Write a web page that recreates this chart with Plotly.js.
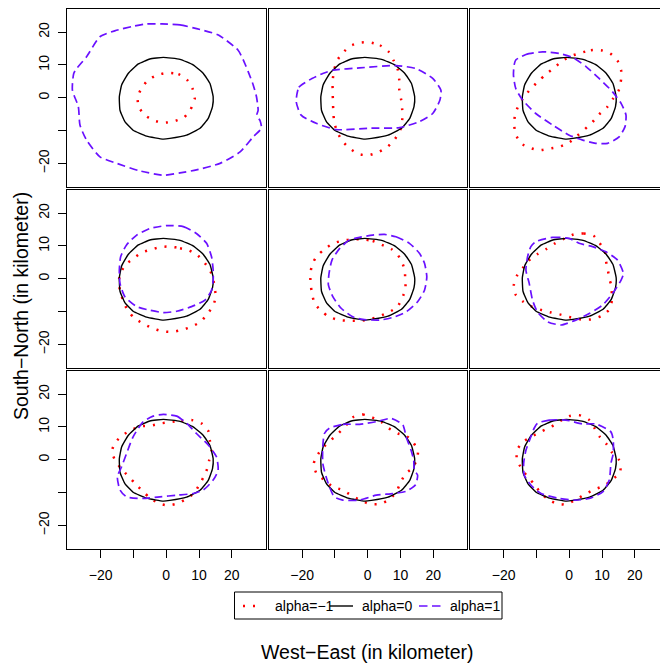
<!DOCTYPE html>
<html>
<head>
<meta charset="utf-8">
<script src="https://cdn.plot.ly/plotly-3.0.1.min.js"></script>
<style>
  html, body { margin: 0; padding: 0; overflow: hidden; background: #fff; }
  #chart { width: 680px; height: 668px; }
</style>
</head>
<body>
<div id="chart"></div>
<script>
// Contours of the spatial kernel for three alpha values, one panel per case (3 x 3 grid).
// Coordinates are in kilometres (West-East, South-North).

// alpha = 0 contour (identical in every panel)
const zeroX = [-0.9, 4.2, 8.2, 11.3, 13.3, 14.3, 14.1, 12.8, 10.3, 6.2, 1.1, -0.9, -6.0, -10.1, -12.6, -14.1, -14.3, -13.6, -11.6, -8.5, -5.0, -0.9];
const zeroY = [12.3, 11.7, 10.0, 7.4, 4.4, 0.3, -2.7, -6.3, -9.3, -11.4, -12.4, -12.6, -11.7, -9.9, -7.3, -3.8, 0.3, 3.9, 7.4, 10.3, 11.8, 12.3];

// alpha = -1 contours, panels 1..9
const neg1X = [0.5, 3.7, 6.4, 8.0, 8.7, 7.4, 5.4, 2.3, -0.7, -3.9, -6.5, -8.4, -8.7, -7.5, -5.4, -2.6, 0.5];
const neg1Y = [7.6, 7.2, 5.4, 2.8, -0.2, -3.6, -6.0, -7.2, -7.6, -6.9, -5.3, -2.8, 0.2, 3.0, 5.5, 7.0, 7.6];
const neg2X = [0.5, 3.7, 6.3, 7.9, 9.2, 9.6, 9.6, 10.2, 10.5, 10.5, 9.9, 8.2, 6.1, 3.4, 0.3, -2.7, -5.6, -7.8, -9.3, -10.2, -10.5, -10.6, -10.7, -10.7, -10.3, -9.4, -7.6, -5.3, -2.3, 0.5];
const neg2Y = [16.9, 16.0, 14.1, 11.3, 8.4, 5.4, 2.5, -0.7, -3.6, -6.8, -9.9, -12.7, -14.9, -16.5, -17.5, -17.2, -15.4, -13.1, -10.4, -7.5, -4.3, -1.2, 2.0, 5.1, 8.2, 11.2, 13.7, 15.8, 16.8, 16.9];
const neg3X = [3.6, 6.6, 9.7, 12.5, 14.7, 15.8, 15.8, 15.2, 13.4, 11.5, 9.1, 7.1, 4.6, 2.3, 0.0, -3.0, -6.1, -9.1, -12.2, -14.7, -16.3, -16.8, -16.5, -15.4, -13.7, -11.7, -9.3, -7.1, -4.6, -2.2, 0.5, 3.6];
const neg3Y = [13.7, 14.5, 14.5, 13.5, 11.3, 8.4, 5.6, 2.5, -0.2, -2.9, -5.1, -7.4, -9.7, -11.7, -13.6, -14.9, -15.5, -16.0, -15.2, -13.9, -11.2, -8.1, -5.1, -2.2, 0.3, 2.8, 5.1, 7.2, 9.1, 11.2, 12.7, 13.7];
const neg4X = [1.3, 4.2, 7.0, 9.6, 11.5, 13.3, 14.3, 14.7, 15.1, 14.3, 12.5, 10.5, 7.7, 4.8, 1.7, -1.3, -4.4, -7.2, -9.8, -11.6, -12.9, -13.9, -14.5, -13.9, -12.3, -10.0, -7.4, -4.6, -1.6, 1.3];
const neg4Y = [9.8, 9.3, 8.6, 7.1, 5.1, 2.6, 0.0, -2.6, -5.3, -8.2, -10.8, -13.1, -14.6, -15.6, -16.2, -16.0, -15.0, -13.6, -11.9, -9.9, -7.3, -4.3, -1.2, 1.8, 4.4, 6.2, 8.0, 8.9, 9.7, 9.8];
const neg5X = [-1.5, 1.5, 4.3, 7.1, 9.2, 10.5, 11.3, 11.4, 11.5, 10.5, 9.0, 6.4, 3.6, 0.5, -2.5, -5.6, -8.7, -11.8, -14.2, -16.2, -17.0, -17.4, -17.5, -16.9, -15.5, -13.2, -10.5, -7.6, -4.6, -1.5];
const neg5Y = [12.0, 11.5, 10.3, 9.1, 7.2, 4.9, 2.4, -0.1, -3.2, -5.8, -8.6, -10.2, -11.4, -12.4, -12.8, -12.8, -12.6, -11.6, -9.8, -7.5, -4.5, -1.6, 1.4, 4.5, 6.9, 9.0, 10.8, 11.6, 12.0, 12.0];
const neg6X = [1.3, 4.4, 7.4, 9.3, 10.9, 11.2, 11.8, 12.2, 12.7, 13.0, 12.0, 9.7, 6.6, 3.7, 0.6, -2.4, -5.5, -8.3, -11.4, -14.0, -16.3, -16.9, -16.0, -14.0, -12.4, -9.7, -6.9, -4.3, -1.5, 1.3];
const neg6Y = [13.5, 13.8, 13.1, 10.8, 8.2, 5.4, 2.6, -0.1, -1.6, -6.7, -9.6, -11.4, -12.4, -12.4, -11.8, -11.0, -10.3, -9.6, -8.5, -7.0, -4.9, -2.0, 0.8, 3.5, 5.5, 7.5, 9.1, 10.8, 12.2, 13.5];
const neg7X = [1.4, 4.6, 7.7, 10.7, 12.8, 13.3, 13.8, 13.1, 12.8, 11.8, 10.3, 8.7, 6.2, 3.5, 0.6, -2.3, -5.0, -7.2, -9.5, -11.6, -13.8, -15.5, -16.6, -15.5, -13.4, -10.8, -7.8, -4.7, -1.5, 1.4];
const neg7Y = [11.5, 11.9, 12.1, 11.1, 8.8, 5.8, 2.7, -0.1, -1.7, -4.5, -7.2, -9.9, -11.9, -13.3, -13.9, -13.3, -11.6, -9.6, -7.2, -5.0, -2.6, -0.3, 2.5, 5.3, 7.4, 9.0, 10.2, 10.4, 11.1, 11.5];
const neg8X = [-4.6, -1.5, 1.3, 4.1, 6.4, 9.2, 11.8, 13.9, 15.3, 14.9, 13.5, 11.4, 10.0, 8.7, 6.6, 3.7, 0.7, -2.3, -5.1, -7.8, -10.7, -13.2, -15.5, -16.5, -15.2, -13.3, -11.2, -8.8, -6.6, -4.6];
const neg8Y = [12.9, 13.8, 12.9, 11.5, 9.6, 8.0, 7.2, 5.2, 2.6, -0.1, -2.6, -4.4, -7.0, -9.8, -12.1, -13.5, -13.5, -12.3, -10.8, -9.2, -8.2, -6.2, -4.4, -1.3, 1.6, 4.0, 6.0, 8.2, 10.5, 12.9];
const neg9X = [0.0, 3.0, 5.9, 7.6, 9.3, 11.4, 12.9, 15.2, 15.5, 15.5, 13.2, 10.7, 7.8, 4.9, 2.2, -0.6, -3.6, -6.5, -8.8, -10.7, -12.7, -14.6, -16.0, -15.8, -13.7, -11.2, -8.3, -5.4, -2.6, 0.0];
const neg9Y = [13.3, 13.6, 12.3, 9.8, 7.0, 4.7, 2.4, -0.1, -0.9, -4.0, -5.9, -7.9, -9.0, -10.5, -12.0, -13.5, -13.5, -12.0, -10.0, -7.4, -5.2, -2.6, 0.2, 3.2, 5.7, 7.2, 8.7, 10.1, 11.9, 13.3];

// alpha = 1 contours, panels 1..9
const pos1X = [-1.4, 4.2, 10.3, 15.9, 21.9, 23.5, 25.0, 26.5, 27.5, 28.0, 27.6, 28.6, 29.0, 26.5, 22.5, 16.4, 9.2, 4.2, -0.9, -8.0, -15.1, -20.2, -24.3, -26.3, -26.8, -28.6, -28.2, -27.3, -24.3, -20.2, -15.7, -10.0, -6.0, -1.4];
const pos1Y = [22.5, 22.2, 20.8, 19.1, 14.5, 11.5, 7.9, 3.9, 0.3, -3.8, -5.3, -7.0, -9.3, -11.9, -16.5, -20.0, -22.0, -22.9, -23.6, -22.3, -20.0, -18.0, -12.9, -8.3, -2.7, 2.3, 7.4, 8.9, 12.5, 18.6, 20.4, 21.8, 22.5, 22.5];
const pos2X = [-21.8, -21.0, -17.8, -13.7, -10.5, -2.5, 8.6, 14.7, 19.8, 22.3, 22.0, 19.8, 15.7, 9.7, 0.5, -9.6, -15.7, -20.3, -21.8];
const pos2Y = [-1.2, 3.2, 5.4, 7.4, 8.4, 9.1, 9.8, 8.9, 5.9, 2.3, -0.7, -4.8, -7.3, -9.1, -9.3, -9.7, -7.8, -5.3, -1.2];
const pos3X = [-16.3, -13.2, -8.1, -3.0, 1.0, 5.1, 9.1, 13.2, 15.8, 17.3, 17.0, 15.2, 11.7, 8.1, 4.1, 0.0, -5.1, -10.2, -14.2, -16.3, -17.0, -16.8, -16.3];
const pos3Y = [11.5, 13.2, 14.0, 13.5, 12.3, 9.5, 5.9, 1.8, -1.7, -5.3, -8.8, -11.9, -13.9, -13.9, -12.9, -11.4, -8.3, -4.8, -0.7, 2.8, 6.9, 10.0, 11.5];
const pos4X = [0.1, 5.2, 9.2, 12.3, 13.8, 14.3, 14.3, 13.8, 11.8, 7.7, 3.2, -0.9, -5.0, -9.0, -12.6, -14.1, -14.3, -13.9, -12.1, -9.0, -5.0, 0.1];
const pos4Y = [16.2, 15.9, 13.8, 10.8, 6.7, 2.6, -0.4, -3.5, -6.5, -8.5, -9.9, -10.3, -9.6, -8.5, -5.5, -1.4, 2.6, 6.7, 10.3, 13.3, 15.3, 16.2];
const pos5X = [5.1, 8.6, 12.7, 15.8, 17.3, 18.0, 17.3, 15.2, 11.7, 7.6, 3.6, -1.5, -4.6, -8.1, -10.6, -12.0, -11.8, -10.9, -8.6, -5.6, -2.5, 1.5, 5.1];
const pos5Y = [13.5, 12.8, 10.8, 7.7, 4.7, 0.6, -3.5, -7.0, -10.1, -11.8, -12.6, -12.4, -11.6, -9.0, -5.5, -1.9, 1.6, 5.7, 9.2, 11.8, 12.6, 13.3, 13.5];
const pos6X = [-10.2, -5.1, 0.0, 3.0, 7.1, 11.2, 14.7, 16.5, 15.8, 13.2, 10.2, 6.1, 2.0, -2.5, -6.6, -9.7, -11.2, -12.2, -13.2, -12.7, -11.7, -10.2];
const pos6Y = [11.3, 12.6, 12.3, 10.8, 9.8, 8.2, 5.7, 1.6, -0.4, -4.5, -8.0, -10.6, -12.6, -14.1, -13.1, -10.1, -6.5, -1.4, 2.6, 6.7, 9.8, 11.3];
const pos7X = [-0.9, 3.2, 6.2, 9.2, 12.8, 15.3, 15.8, 14.3, 11.3, 8.2, 3.2, -1.9, -7.0, -12.1, -14.1, -14.9, -13.6, -12.1, -10.1, -7.0, -4.0, -0.9];
const pos7Y = [13.8, 13.3, 11.1, 8.0, 4.5, 0.9, -3.2, -6.2, -9.2, -10.3, -10.8, -11.3, -11.8, -11.3, -9.2, -5.2, -2.1, 1.9, 7.0, 11.6, 13.3, 13.8];
const pos8X = [-11.7, -7.6, -2.5, 2.6, 7.1, 10.7, 11.7, 13.2, 14.0, 14.2, 15.2, 14.5, 11.7, 7.6, 2.6, -2.5, -7.6, -10.2, -11.7, -12.7, -13.7, -13.7, -13.2, -11.7];
const pos8Y = [9.6, 10.8, 10.8, 11.6, 12.6, 10.6, 7.0, 2.9, -0.1, -3.2, -4.7, -7.7, -9.6, -10.3, -10.8, -12.3, -12.3, -11.3, -8.2, -5.2, -1.1, 4.0, 8.0, 9.6];
const pos9X = [-9.7, -6.1, -1.0, 4.1, 8.1, 12.7, 13.4, 13.4, 12.7, 12.2, 10.2, 6.1, 2.0, -3.0, -8.6, -11.7, -13.7, -13.9, -13.2, -11.7, -10.7, -9.7];
const pos9Y = [11.1, 12.1, 12.1, 10.9, 10.9, 8.5, 6.0, 1.9, -1.1, -6.2, -9.8, -11.8, -12.3, -11.8, -10.3, -7.7, -4.7, -1.1, 2.9, 7.0, 9.6, 11.1];

// axis ticks
const tickVals = [-20, -10, 0, 10, 20];
const tickText = ['\u221220', '', '0', '10', '20'];

// series labels
const seriesNames = ['alpha=\u22121', 'alpha=0', 'alpha=1'];

const negX = [neg1X, neg2X, neg3X, neg4X, neg5X, neg6X, neg7X, neg8X, neg9X];
const negY = [neg1Y, neg2Y, neg3Y, neg4Y, neg5Y, neg6Y, neg7Y, neg8Y, neg9Y];
const posX = [pos1X, pos2X, pos3X, pos4X, pos5X, pos6X, pos7X, pos8X, pos9X];
const posY = [pos1Y, pos2Y, pos3Y, pos4Y, pos5Y, pos6Y, pos7Y, pos8Y, pos9Y];

// page geometry (px)
const W = 680, H = 668;
const colLeft = [67, 268.5, 470];
const panelW = 198.5;
const rowTop = [9, 190, 371];
const panelH = 177.5;
const xRange = [-30.25, 30.25];
const yRange = [-27.05, 27.05];

const FONT = 'Liberation Sans, Arial, Helvetica, sans-serif';
const RED = '#ff0000';
const BLUE = '#6a10ff';

const styleNeg = { color: RED, width: 2.5, dash: '2px,8px', shape: 'spline', smoothing: 0.6 };
const styleZero = { color: '#000000', width: 1.4, shape: 'spline', smoothing: 0.4 };
const stylePos = { color: BLUE, width: 1.7, dash: '8px,4.5px', shape: 'spline', smoothing: 0.6 };

const traces = [];
const layout = {
  width: W, height: H,
  margin: { l: 0, r: 0, t: 0, b: 0 },
  paper_bgcolor: '#ffffff',
  plot_bgcolor: '#ffffff',
  showlegend: false,
  font: { family: FONT, color: '#000000', size: 14 },
  shapes: [],
  annotations: []
};

for (let i = 0; i < 9; i++) {
  const r = Math.floor(i / 3), c = i % 3;
  const n = i + 1;
  const xa = 'x' + (n > 1 ? n : '');
  const ya = 'y' + (n > 1 ? n : '');
  const common = { xaxis: xa, yaxis: ya, mode: 'lines', hoverinfo: 'skip', showlegend: false };
  traces.push(Object.assign({ x: negX[i], y: negY[i], name: seriesNames[0], line: styleNeg }, common));
  traces.push(Object.assign({ x: zeroX, y: zeroY, name: seriesNames[1], line: styleZero }, common));
  traces.push(Object.assign({ x: posX[i], y: posY[i], name: seriesNames[2], line: stylePos }, common));

  const bottom = (r === 2), left = (c === 0);
  layout['xaxis' + (n > 1 ? n : '')] = {
    domain: [colLeft[c] / W, (colLeft[c] + panelW) / W],
    range: xRange, anchor: ya,
    showline: true, mirror: true, linecolor: '#000', linewidth: 1,
    showgrid: false, zeroline: false,
    ticks: bottom ? 'outside' : '', ticklen: 8, tickwidth: 1, tickcolor: '#000',
    tickmode: 'array', tickvals: tickVals, ticktext: tickText,
    showticklabels: bottom, ticklabelstandoff: 6,
    tickfont: { family: FONT, size: 14, color: '#000' },
    fixedrange: true
  };
  layout['yaxis' + (n > 1 ? n : '')] = {
    domain: [1 - (rowTop[r] + panelH) / H, 1 - rowTop[r] / H],
    range: yRange, anchor: xa,
    showline: true, mirror: true, linecolor: '#000', linewidth: 1,
    showgrid: false, zeroline: false,
    ticks: left ? 'outside' : '', ticklen: 8, tickwidth: 1, tickcolor: '#000',
    tickmode: 'array', tickvals: tickVals, ticktext: tickText, tickangle: -90,
    showticklabels: left, ticklabelstandoff: 3,
    tickfont: { family: FONT, size: 14, color: '#000' },
    fixedrange: true
  };
}

// helpers for pixel placement on the paper
const px = v => v / W;
const py = v => 1 - v / H;

// outer axis titles
layout.annotations.push({
  xref: 'paper', yref: 'paper', x: px(367.5), y: py(652), xanchor: 'center', yanchor: 'middle',
  text: 'West\u2212East (in kilometer)', showarrow: false, font: { family: FONT, size: 19.5, color: '#000' }
});
layout.annotations.push({
  xref: 'paper', yref: 'paper', x: px(21), y: py(306), xanchor: 'center', yanchor: 'middle',
  text: 'South\u2212North (in kilometer)', textangle: -90, showarrow: false,
  font: { family: FONT, size: 19.5, color: '#000' }
});

// legend box
const legY = 606;
layout.shapes.push({ type: 'rect', xref: 'paper', yref: 'paper',
  x0: px(234.5), x1: px(502), y0: py(619), y1: py(592), line: { color: '#000', width: 1 }, fillcolor: 'rgba(0,0,0,0)' });
const legendKeys = [
  { x0: 243, x1: 257, line: { color: RED, width: 2.5, dash: '2px,8px' }, tx: 273, label: seriesNames[0] },
  { x0: 330, x1: 353, line: { color: '#000', width: 1.4 }, tx: 360, label: seriesNames[1] },
  { x0: 419, x1: 441, line: { color: BLUE, width: 1.7, dash: '8.5px,4.5px' }, tx: 448, label: seriesNames[2] }
];
legendKeys.forEach(k => {
  layout.shapes.push({ type: 'line', xref: 'paper', yref: 'paper',
    x0: px(k.x0), x1: px(k.x1), y0: py(legY), y1: py(legY), line: k.line });
  layout.annotations.push({ xref: 'paper', yref: 'paper', x: px(k.tx), y: py(legY),
    xanchor: 'left', yanchor: 'middle', text: k.label, showarrow: false,
    font: { family: FONT, size: 14, color: '#000' } });
});

Plotly.newPlot('chart', traces, layout, { staticPlot: true, displayModeBar: false });
</script>
</body>
</html>
